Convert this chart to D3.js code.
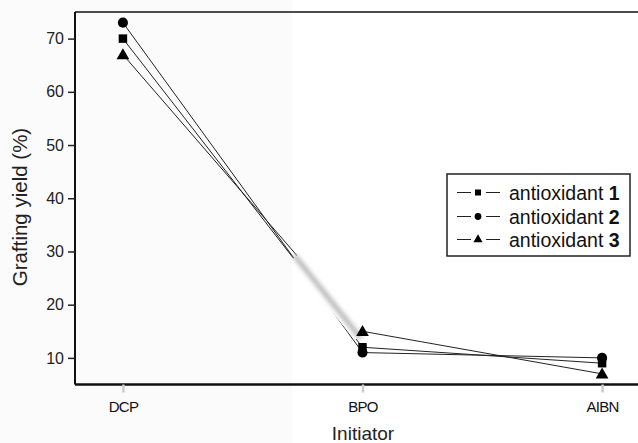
<!DOCTYPE html>
<html><head><meta charset="utf-8">
<script src="https://cdn.jsdelivr.net/npm/d3@7"></script>
<style>body{margin:0;background:#fff}svg{display:block}</style>
</head><body>
<svg id="c" width="638" height="443"></svg>
<script>
const categories = ["DCP", "BPO", "AIBN"];
const seriesNames = ["antioxidant ", "antioxidant ", "antioxidant "];
const seriesNums = ["1", "2", "3"];
const series1 = [70, 12, 9];
const series2 = [73, 11, 10];
const series3 = [67, 15, 7];
const yTicks = [10, 20, 30, 40, 50, 60, 70];
const symbols = [d3.symbolSquare, d3.symbolCircle, d3.symbolTriangle];
const symSizes = [72, 80, 70];
const allSeries = [series1, series2, series3];

const svg = d3.select("#c");
const defs = svg.append("defs");
defs.append("filter").attr("id", "blur").attr("x", "-50%").attr("y", "-50%").attr("width", "200%").attr("height", "200%")
  .append("feGaussianBlur").attr("stdDeviation", 2);

const L = 75, T = 12, B = 384.5, R = 650;
const x = d3.scalePoint().domain(categories).range([L, R]).padding(0.2);
const y = d3.scaleLinear().domain([5, 75]).range([B, T]);

// faint background area on left (scan tint)
svg.append("rect").attr("x", 0).attr("y", 0).attr("width", 292).attr("height", 443).attr("fill", "#fbfbfb");

// frame top
svg.append("line").attr("x1", L).attr("x2", 638).attr("y1", T).attr("y2", T).attr("stroke", "#111").attr("stroke-width", 1.5);

// y axis
const ya = svg.append("g").attr("transform", `translate(${L},0)`)
  .call(d3.axisLeft(y).tickValues(yTicks).tickSize(7).tickPadding(4).tickFormat(d3.format("d")));
ya.select(".domain").attr("stroke", "#111").attr("stroke-width", 2).attr("d", `M0,${T}V${B}`);
ya.selectAll(".tick line").attr("stroke", "#222").attr("stroke-width", 1.5);
ya.selectAll(".tick text").attr("font-family", "Liberation Sans, Arial, sans-serif").attr("font-size", 16).attr("fill", "#222");

// x axis
const xa = svg.append("g").attr("transform", `translate(0,${B})`)
  .call(d3.axisBottom(x).tickSize(8).tickPadding(6));
xa.select(".domain").attr("stroke", "#111").attr("stroke-width", 2.5).attr("d", `M${L},0H638`);
xa.selectAll(".tick line").attr("stroke", "#ccc").attr("stroke-width", 2.5);
xa.selectAll(".tick text").attr("font-family", "Liberation Sans, Arial, sans-serif").attr("font-size", 15)
  .attr("letter-spacing", -0.7).attr("fill", "#111").attr("dy", "0.9em");

// axis titles
svg.append("text").attr("transform", "translate(27,207) rotate(-90)").attr("text-anchor", "middle")
  .attr("font-family", "Liberation Sans, Arial, sans-serif").attr("font-size", 20.5).attr("fill", "#222").text("Grafting yield (%)");
svg.append("text").attr("x", 363).attr("y", 440).attr("text-anchor", "middle")
  .attr("font-family", "Liberation Sans, Arial, sans-serif").attr("font-size", 19).attr("fill", "#222").text("Initiator");

const line = d3.line().x((d, i) => x(categories[i])).y(d => y(d));
allSeries.forEach((s, k) => {
  svg.append("path").attr("d", line(s)).attr("fill", "none").attr("stroke", "#222").attr("stroke-width", 1);
});

// scan blur artifact over the DCP-BPO segment near BPO
const bx1 = x("DCP") + (x("BPO") - x("DCP")) * 0.72, by1 = y(29);
const bx2 = x("BPO") - 3, by2 = y(14);
svg.append("line").attr("x1", bx1).attr("y1", by1).attr("x2", bx2).attr("y2", by2)
  .attr("stroke", "#fff").attr("stroke-width", 12);
svg.append("line").attr("x1", bx1).attr("y1", by1).attr("x2", bx2).attr("y2", by2)
  .attr("stroke", "#b8b8b8").attr("stroke-width", 5).attr("filter", "url(#blur)").attr("stroke-linecap", "round");

allSeries.forEach((s, k) => {
  svg.selectAll(null).data(s).enter().append("path")
    .attr("d", d3.symbol().type(symbols[k]).size(symSizes[k]))
    .attr("transform", (d, i) => `translate(${x(categories[i])},${y(d) + (k === 2 ? 1 : 0)})`)
    .attr("fill", "#000");
});

// legend
const lg = svg.append("g");
lg.append("rect").attr("x", 447).attr("y", 174).attr("width", 183).attr("height", 82)
  .attr("fill", "#fff").attr("stroke", "#222").attr("stroke-width", 1.5);
seriesNums.forEach((n, k) => {
  const cy = Math.round(192 + k * 23.5) + 0.5;
  lg.append("line").attr("x1", 457).attr("x2", 471).attr("y1", cy).attr("y2", cy).attr("stroke", "#222");
  lg.append("line").attr("x1", 486).attr("x2", 500).attr("y1", cy).attr("y2", cy).attr("stroke", "#222");
  lg.append("path").attr("d", d3.symbol().type(symbols[k]).size(36)).attr("transform", `translate(478,${cy})`).attr("fill", "#000");
  const t = lg.append("text").attr("x", 509).attr("y", cy + 7).attr("font-family", "Liberation Sans, Arial, sans-serif")
    .attr("font-size", 19.5).attr("fill", "#111");
  t.append("tspan").text(seriesNames[k]);
  t.append("tspan").attr("font-weight", "bold").text(n);
});
</script>
</body></html>
